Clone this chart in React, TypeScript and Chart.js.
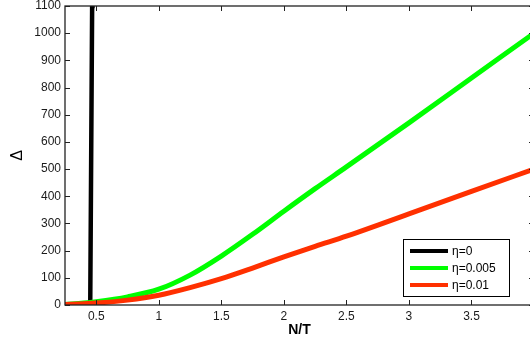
import React, { useEffect, useRef } from "react";
import { Chart, registerables } from "chart.js";

Chart.register(...registerables);

const blackX = [0.25, 0.3, 0.35, 0.4, 0.43, 0.445, 0.452, 0.467, 0.47];
const blackY = [0, 0.5, 1, 2, 4, 8, 15, 1100, 1300];

const greenX = [0.25, 0.4, 0.5, 0.75, 1, 1.25, 1.5, 1.75, 2, 2.25, 2.5, 3, 3.5, 4];
const greenY = [2, 7, 12, 30, 58, 110, 180, 260, 345, 428, 508, 670, 835, 1000];

const redX = [0.25, 0.4, 0.5, 0.75, 1, 1.25, 1.5, 1.75, 2, 2.25, 2.5, 3, 3.5, 4];
const redY = [2, 5, 7, 18, 36, 64, 97, 136, 177, 216, 253, 335, 418, 500];

const seriesLabels = ["η=0", "η=0.005", "η=0.01"];
const seriesColors = ["#000000", "#00ff00", "#ff3000"];

const xMin = 0.25;
const xMax = 4;
const yMin = 0;
const yMax = 1100;

const toPts = (xs: number[], ys: number[]) => xs.map((x, i) => ({ x, y: ys[i] }));

const framePlugin = {
  id: "frame",
  afterDatasetsDraw(chart: any) {
    const { ctx, chartArea } = chart;
    const { left, right, top, bottom } = chartArea;
    ctx.save();
    ctx.strokeStyle = "#222";
    ctx.lineWidth = 1.3;
    ctx.strokeRect(left, top, right - left, bottom - top);
    ctx.lineWidth = 1;
    const tl = 5;
    const xs = chart.scales.x;
    xs.ticks.forEach((t: any) => {
      const px = Math.round(xs.getPixelForValue(t.value)) + 0.5;
      ctx.beginPath();
      ctx.moveTo(px, bottom);
      ctx.lineTo(px, bottom - tl);
      ctx.moveTo(px, top);
      ctx.lineTo(px, top + tl);
      ctx.stroke();
    });
    const ys = chart.scales.y;
    ys.ticks.forEach((t: any) => {
      const py = Math.round(ys.getPixelForValue(t.value)) + 0.5;
      ctx.beginPath();
      ctx.moveTo(left, py);
      ctx.lineTo(left + tl, py);
      ctx.moveTo(right, py);
      ctx.lineTo(right - tl, py);
      ctx.stroke();
    });

    // legend
    const bx = 403, by = 239, bw = 106, bh = 57;
    ctx.fillStyle = "#fff";
    ctx.fillRect(bx, by, bw, bh);
    ctx.strokeStyle = "#000";
    ctx.lineWidth = 1;
    ctx.strokeRect(bx + 0.5, by + 0.5, bw, bh);
    const rows = [251, 268, 285];
    chart.data.datasets.forEach((ds: any, i: number) => {
      const y = rows[i];
      ctx.strokeStyle = ds.borderColor;
      ctx.lineWidth = 4;
      ctx.beginPath();
      ctx.moveTo(410, y);
      ctx.lineTo(448, y);
      ctx.stroke();
      ctx.fillStyle = "#000";
      ctx.font = "12px 'Liberation Sans', Arial, sans-serif";
      ctx.textBaseline = "middle";
      ctx.textAlign = "left";
      ctx.fillText(ds.label, 452, y + 1);
    });
    ctx.restore();
  },
};

export default function App() {
  const ref = useRef<HTMLCanvasElement | null>(null);
  useEffect(() => {
    if (!ref.current) return;
    Chart.defaults.font.family = "'Liberation Sans', Arial, sans-serif";
    const chart = new Chart(ref.current, {
      type: "line",
      data: {
        datasets: [
          { label: seriesLabels[0], data: toPts(blackX, blackY), borderColor: seriesColors[0], backgroundColor: seriesColors[0], borderWidth: 4.5, pointRadius: 0, tension: 0, order: 3 },
          { label: seriesLabels[1], data: toPts(greenX, greenY), borderColor: seriesColors[1], backgroundColor: seriesColors[1], borderWidth: 5, pointRadius: 0, cubicInterpolationMode: "monotone", order: 2 },
          { label: seriesLabels[2], data: toPts(redX, redY), borderColor: seriesColors[2], backgroundColor: seriesColors[2], borderWidth: 5, pointRadius: 0, cubicInterpolationMode: "monotone", order: 1 },
        ],
      },
      options: {
        responsive: false,
        animation: false,
        layout: { padding: { top: 6, left: 0, right: 0, bottom: 0 } },
        plugins: { legend: { display: false }, tooltip: { enabled: false } },
        scales: {
          x: {
            type: "linear",
            min: xMin,
            max: xMax,
            grid: { display: false, drawTicks: false },
            border: { display: false },
            ticks: {
              stepSize: 0.5,
              includeBounds: false,
              padding: 4,
              color: "#1a1a1a",
              font: { size: 12 },
              maxRotation: 0,
              autoSkip: false,
              callback: (v: any) => (Number(v) >= 4 ? "" : String(v)),
            },
            title: { display: true, text: "N/T", color: "#000", font: { size: 14, weight: "bold" }, padding: { top: 0, bottom: 5 } },
            afterFit: (s: any) => { s.height = 39; s.paddingLeft = 0; s.paddingRight = 0; },
          },
          y: {
            type: "linear",
            min: yMin,
            max: yMax,
            grid: { display: false, drawTicks: false },
            border: { display: false },
            ticks: { stepSize: 100, padding: 4, color: "#1a1a1a", font: { size: 12 }, callback: (v: any) => String(v) },
            title: { display: true, text: "Δ", color: "#000", font: { size: 16 }, padding: { top: 8, bottom: 0 } },
            afterFit: (s: any) => { s.width = 65; s.paddingTop = 0; s.paddingBottom = 0; },
          },
        },
      },
      plugins: [framePlugin],
    });
    return () => chart.destroy();
  }, []);
  return (
    <div style={{ position: "fixed", left: 0, top: 0, width: 530, height: 344, overflow: "hidden", background: "#fff" }}>
      <canvas ref={ref} width={534} height={344} style={{ display: "block" }} />
    </div>
  );
}
